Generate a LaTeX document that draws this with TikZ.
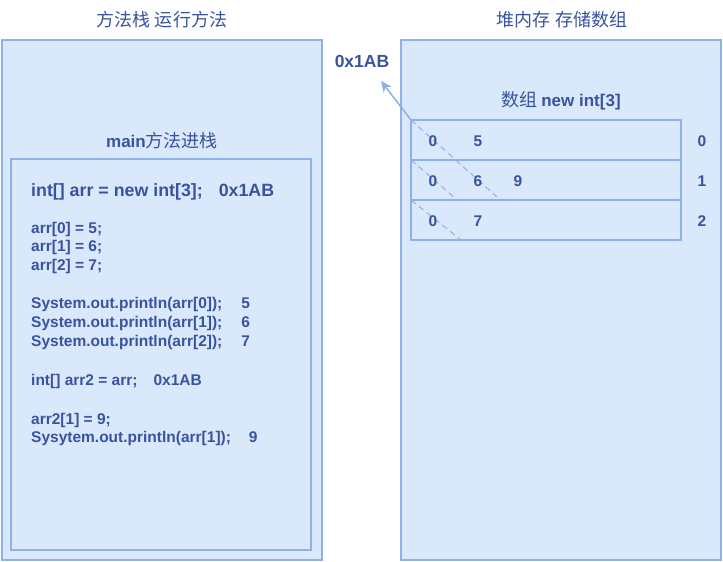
\documentclass[tikz,border=0pt]{standalone}
\usepackage{fontspec}
\setmainfont{Liberation Sans}
\newfontfamily\cjk{Noto Sans CJK SC}
\usetikzlibrary{arrows.meta}
\definecolor{boxfill}{HTML}{DAE8FC}
\definecolor{boxline}{HTML}{8DB1E8}
\definecolor{txt}{RGB}{57,83,160}
\tikzset{
  panel/.style={draw=boxline,fill=boxfill,line width=1.6pt},
  cell/.style={draw=boxline,fill=boxfill,line width=1.6pt},
  title/.style={text=txt,font=\cjk\fontsize{18}{21}\selectfont,inner sep=0pt},
  code/.style={text=txt,font=\bfseries\fontsize{15.5}{18}\selectfont,anchor=west,inner sep=0pt},
  bigcode/.style={text=txt,font=\bfseries\fontsize{17.8}{20}\selectfont,anchor=west,inner sep=0pt},
  num/.style={text=txt,font=\bfseries\fontsize{15.5}{18}\selectfont,inner sep=0pt},
  strike/.style={draw=boxline,line width=1pt,dash pattern=on 6pt off 4pt},
  ptr/.style={draw=boxline,line width=1.5pt,-{Stealth[length=11pt,width=10pt]}}
}
\begin{document}
\begin{tikzpicture}[x=1pt,y=-1pt]
\useasboundingbox (0,0) rectangle (723,562);
% panels
\draw[panel] (2,40) rectangle (322,560);
\draw[panel] (11,159) rectangle (311,550);
\draw[panel] (401,40) rectangle (721,560);
% titles
\node[title] (t1) at (162,20) {方法栈 运行方法};
\node[title] (t2) at (562,20) {堆内存 存储数组};
\node[title] (t3) at (162,141) {{\rmfamily\bfseries\fontsize{17}{20}\selectfont main}方法进栈};
\node[title] (t4) at (561,101) {数组 {\rmfamily\bfseries\fontsize{17}{20}\selectfont new int[3]}};
% array cells
\draw[cell] (411,120) rectangle (681,160);
\draw[cell] (411,160) rectangle (681,200);
\draw[cell] (411,200) rectangle (681,240);
\coordinate (c0) at (411,120);
\coordinate (c1) at (411,160);
\coordinate (c2) at (411,200);
\coordinate (e0) at (497,197);
\coordinate (e1) at (455,198);
\coordinate (e2) at (461,240);
\draw[strike] (c0) -- (e0);
\draw[strike] (c1) -- (e1);
\draw[strike] (c2) -- (e2);
% cell values
\node[num] (v00) at (433,141) {0};
\node[num] (v01) at (478,141) {5};
\node[num] (v10) at (433,181) {0};
\node[num] (v11) at (478,181) {6};
\node[num] (v12) at (518,181) {9};
\node[num] (v20) at (433,221) {0};
\node[num] (v21) at (478,221) {7};
\node[num] (i0) at (702,141) {0};
\node[num] (i1) at (702,181) {1};
\node[num] (i2) at (702,221) {2};
% address
\node[text=txt,font=\bfseries\fontsize{17.5}{20}\selectfont,inner sep=0pt] (addr) at (362,61) {0x1AB};
\coordinate (tip) at (381,81);
\draw[ptr] (c0) -- (tip);
% code
\node[bigcode] (l1) at (31,192) {int[] arr = new int[3];\hspace{16pt}0x1AB};
\node[code] (l2) at (31,229) {arr[0] = 5;};
\node[code] (l3) at (31,247.5) {arr[1] = 6;};
\node[code] (l4) at (31,266) {arr[2] = 7;};
\node[code] (l5) at (31,304) {System.out.println(arr[0]);\hspace{19pt}5};
\node[code] (l6) at (31,323) {System.out.println(arr[1]);\hspace{19pt}6};
\node[code] (l7) at (31,342) {System.out.println(arr[2]);\hspace{19pt}7};
\node[code] (l8) at (31,381) {int[] arr2 = arr;\hspace{16pt}0x1AB};
\node[code] (l9) at (31,420) {arr2[1] = 9;};
\node[code] (l10) at (31,438.5) {Sysytem.out.println(arr[1]);\hspace{18pt}9};
\end{tikzpicture}
\end{document}
